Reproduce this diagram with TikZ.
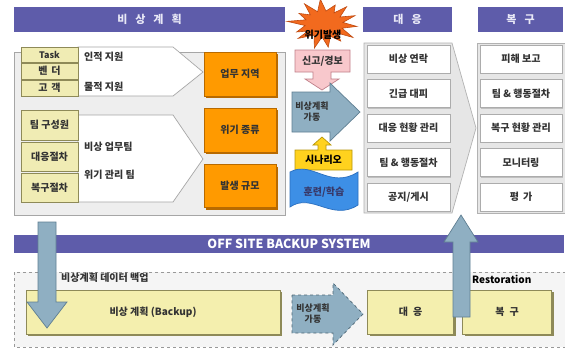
\documentclass[tikz,border=0pt]{standalone}
\usepackage{fontspec}
\setmainfont{Noto Sans CJK KR}
\usetikzlibrary{shadows}
\definecolor{hdr}{HTML}{5E5CAA}
\definecolor{hdrt}{HTML}{E8E8F6}
\definecolor{txt}{HTML}{333333}
\definecolor{pnl}{HTML}{EEEEEE}
\definecolor{ylw}{HTML}{F0ECB4}
\definecolor{ylwd}{HTML}{8E8A58}
\definecolor{org}{HTML}{FF9A00}
\definecolor{orgd}{HTML}{B86A00}
\definecolor{blug}{HTML}{8FAFC2}
\definecolor{blugd}{HTML}{5F7F92}
\definecolor{pnk}{HTML}{F8C8CC}
\definecolor{pnkd}{HTML}{C0808A}
\definecolor{gold}{HTML}{FFD21E}
\definecolor{goldd}{HTML}{B8960A}
\definecolor{wave}{HTML}{3D8FE6}
\definecolor{waved}{HTML}{2A6FBF}
\definecolor{burst}{HTML}{F26A1E}
\definecolor{burstd}{HTML}{C04A10}
\definecolor{bky}{HTML}{F4EFAE}
\definecolor{colpnl}{HTML}{E6E6E6}
\newcommand{\gp}{\hspace{8pt}}
\tikzset{
  hdrbox/.style={fill=hdr, text=hdrt, inner sep=0pt, font=\fontsize{11}{12}\selectfont\bfseries},
  panelbox/.style={fill=pnl, draw=gray!70, line width=0.6pt, inner sep=0pt},
  smallbox/.style={fill=ylw, draw=ylwd, line width=0.8pt, inner sep=0pt, text=txt},
  orangebox/.style={fill=org, draw=orgd, line width=0.6pt, inner sep=0pt, text=txt,
     drop shadow={shadow xshift=2pt, shadow yshift=-2pt, fill=orgd, opacity=1}},
  whitebox/.style={fill=white, draw=gray!65, line width=0.9pt, inner sep=0pt, text=txt,
     drop shadow={shadow xshift=1.2pt, shadow yshift=-1.2pt, fill=gray!50, opacity=1}},
  bkbox/.style={fill=bky, draw=ylwd, line width=0.6pt, inner sep=0pt, text=txt,
     drop shadow={shadow xshift=2pt, shadow yshift=-2pt, fill=ylwd, opacity=1}},
  whitearrow/.style={fill=white, draw=gray!70, line width=0.7pt},
  bigarrow/.style={fill=blug, draw=blugd, line width=0.7pt},
  lbl/.style={text=txt, inner sep=0pt},
}
\begin{document}
\begin{tikzpicture}[x=1pt,y=-1pt,font=\fontsize{10}{11}\selectfont\bfseries]
\useasboundingbox (0,0) rectangle (565,348);
\fill[white] (0,0) rectangle (565,348);

% headers
\node[hdrbox, minimum width=271pt, minimum height=25pt] (h1) at (149.5,19.5) {비\gp 상\gp 계\gp 획};
\node[hdrbox, minimum width=89pt, minimum height=25pt] (h2) at (407.5,19.5) {대\gp 응};
\node[hdrbox, minimum width=85pt, minimum height=25pt] (h3) at (520.5,19.5) {복\gp 구};

% left panel
\node[panelbox, minimum width=271pt, minimum height=163pt] (lp) at (149.5,133.5) {};

% white arrows
\draw[whitearrow] (78,47) -- (173,47) -- (203,72) -- (173,96) -- (78,96) -- cycle;
\draw[whitearrow] (78,115) -- (173,115) -- (203,159) -- (173,202) -- (78,202) -- cycle;
\node[lbl, anchor=west] (hr) at (84,57) {인적 지원};
\node[lbl, anchor=west] (mat) at (84,87) {물적 지원};
\node[lbl, anchor=west] (team1) at (84,147) {비상 업무팀};
\node[lbl, anchor=west] (team2) at (84,175) {위기 관리 팀};

% small yellow boxes
\node[smallbox, minimum width=57pt, minimum height=15pt, font=\fontsize{9}{10}\selectfont\bfseries] (task) at (49.5,54.5) {Task};
\node[smallbox, minimum width=57pt, minimum height=16pt] (vendor) at (49.5,71) {벤\hspace{4pt}더};
\node[smallbox, minimum width=57pt, minimum height=16pt] (cust) at (49.5,88) {고\hspace{4pt}객};
\node[smallbox, minimum width=57pt, minimum height=30pt] (member) at (49.5,125) {팀 구성원};
\node[smallbox, minimum width=57pt, minimum height=29pt] (resp) at (49.5,156.5) {대응절차};
\node[smallbox, minimum width=57pt, minimum height=29pt] (recov) at (49.5,187.5) {복구절차};

% orange boxes
\node[orangebox, minimum width=72pt, minimum height=44pt] (area) at (240,74) {업무 지역};
\node[orangebox, minimum width=72pt, minimum height=44pt] (kind) at (240,130) {위기 종류};
\node[orangebox, minimum width=72pt, minimum height=43pt] (scale) at (240,186) {발생 규모};

% burst
\coordinate (burstc) at (324,24);
\draw[fill=burst, draw=burstd, line width=0.6pt, shift={(burstc)}]
  plot[samples at={0,...,27}] ({(mod(\x,2)==0 ? (33+4*sin(\x*83)) : 19)*cos(\x*360/28+6)},
                               {(mod(\x,2)==0 ? (23+3*sin(\x*61)) : 13)*sin(\x*360/28+6)}) -- cycle;
\node[lbl, text=black] (bursttxt) at (323,35) {위기발생};

% pink callout
\draw[fill=pnk, draw=pnkd, line width=0.7pt] (295,50) -- (350,50) -- (350,72) -- (331,72) -- (331,79)
   -- (339,79) -- (322,90) -- (305,79) -- (313,79) -- (313,72) -- (295,72) -- cycle;
\node[lbl] (alarm) at (322.5,61) {신고/경보};

% yellow callout
\draw[fill=gold, draw=goldd, line width=0.7pt] (295,170) -- (295,150) -- (318,150) -- (318,145)
   -- (313,145) -- (322,137) -- (331,145) -- (326,145) -- (326,150) -- (352,150) -- (352,170) -- cycle;
\node[lbl, text=black] (scen) at (323.5,160) {시나리오};

% gray activation arrow
\draw[bigarrow] (292,92) -- (330,92) -- (330,83) -- (360,112) -- (330,141) -- (330,132) -- (292,132) -- cycle;
\node[lbl, align=center, font=\fontsize{9}{11}\selectfont\bfseries] (act) at (312,112) {비상계획\\가동};

% wave
\draw[fill=wave, draw=waved, line width=0.7pt] (290,172) .. controls (312,160) and (330,190) .. (358,172)
   -- (358,205) .. controls (332,222) and (312,192) .. (290,207) -- cycle;
\node[lbl, text=hdr!60!black] (train) at (324,192) {훈련/학습};

% response column
\draw[fill=colpnl, draw=gray!60, line width=0.7pt] (364,43) -- (452,43) -- (476,128) -- (452,213) -- (364,213) -- cycle;
\node[whitebox, minimum width=83pt, minimum height=28pt] (r1) at (408.5,59) {비상 연락};
\node[whitebox, minimum width=83pt, minimum height=28pt] (r2) at (408.5,93.5) {긴급 대피};
\node[whitebox, minimum width=83pt, minimum height=28pt] (r3) at (408.5,128) {대응 현황 관리};
\node[whitebox, minimum width=83pt, minimum height=28pt] (r4) at (408.5,162.5) {팀 \& 행동절차};
\node[whitebox, minimum width=83pt, minimum height=28pt] (r5) at (408.5,197) {공지/게시};

% recovery column
\draw[fill=colpnl, draw=gray!60, line width=0.7pt] (477,43) rectangle (565,213);
\node[whitebox, minimum width=82pt, minimum height=28pt] (c1) at (521,59) {피해 보고};
\node[whitebox, minimum width=82pt, minimum height=28pt] (c2) at (521,93.5) {팀 \& 행동절차};
\node[whitebox, minimum width=82pt, minimum height=28pt] (c3) at (521,128) {복구 현황 관리};
\node[whitebox, minimum width=82pt, minimum height=28pt] (c4) at (521,162.5) {모니터링};
\node[whitebox, minimum width=82pt, minimum height=28pt] (c5) at (521,197) {평\hspace{4pt}가};

% off-site bar
\node[hdrbox, text=white, minimum width=550pt, minimum height=18pt, font=\fontsize{12.5}{13}\selectfont\bfseries] (offbar) at (289,244) {OFF SITE BACKUP SYSTEM};

% dashed region
\draw[dashed, draw=gray!80, fill=gray!8, line width=0.6pt] (14,272) rectangle (566,347);
\node[lbl, anchor=west] (bklbl) at (61,278) {비상계획 데이터 백업};
\node[lbl, anchor=west, text=black] (restlbl) at (472,279) {Restoration};

% backup boxes
\node[bkbox, minimum width=254pt, minimum height=44pt] (bk) at (153,312) {비상 계획 (Backup)};
\node[bkbox, minimum width=86pt, minimum height=44pt] (resp2) at (410.5,312) {대\hspace{5pt}응};
\node[bkbox, minimum width=89pt, minimum height=44pt] (rec2) at (507,312) {복\hspace{5pt}구};

% dashed activation arrow
\draw[fill=blug, draw=blugd!80!black, dashed, line width=0.7pt] (292,295) -- (333,295) -- (333,283) -- (363,314)
   -- (333,345) -- (333,333) -- (292,333) -- cycle;
\node[lbl, align=center, font=\fontsize{9}{11}\selectfont\bfseries] (act2) at (313,314) {비상계획\\가동};

% restoration up arrow
\draw[bigarrow] (453,317) -- (453,242) -- (444,242) -- (461,215) -- (478,242) -- (470,242) -- (470,317) -- cycle;

% backup down arrow
\draw[bigarrow] (38,222) -- (56,222) -- (56,302) -- (67,302) -- (47,328) -- (27,302) -- (38,302) -- cycle;
\end{tikzpicture}
\end{document}
